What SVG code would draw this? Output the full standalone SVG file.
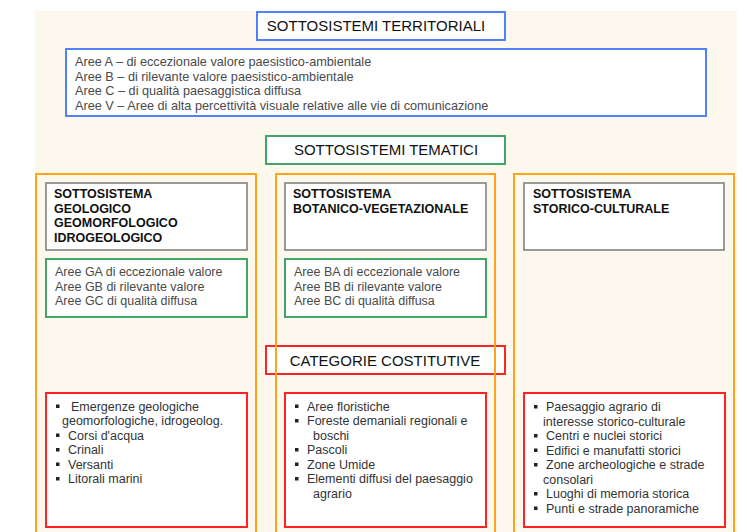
<svg xmlns="http://www.w3.org/2000/svg" width="747" height="532" viewBox="0 0 747 532">
<style>
text{font-family:"Liberation Sans",Arial,sans-serif}
.bg{fill:#fdf8ee}
.blue{fill:#fff;stroke:#5080fa;stroke-width:2}
.green{fill:#fff;stroke:#43a46a;stroke-width:2}
.red{fill:#fff;stroke:#ff2424;stroke-width:2}
.orange{fill:none;stroke:#ffa31a;stroke-width:2}
.grey{fill:#fff;stroke:#7a7a7a;stroke-width:1.5}
.title{font-size:15px;fill:#111}
.area{font-size:12.7px;fill:#4a4a4a}
.hdr{font-size:12.5px;font-weight:bold;fill:#111}
.gtx{font-size:12.5px;fill:#4a4a4a}
.ltx{font-size:12.5px;fill:#333}
.bul{fill:#222}
</style>
<rect class="bg" x="35" y="11" width="702" height="521"/>

<g id="territoriali">
<rect class="blue" x="257" y="12" width="248" height="28"/>
<text class="title" x="376" y="31" text-anchor="middle">SOTTOSISTEMI TERRITORIALI</text>
</g>

<g id="aree-territoriali">
<rect class="blue" x="66" y="49" width="640" height="67"/>
<text class="area" x="75" y="66">Aree A – di eccezionale valore paesistico-ambientale</text>
<text class="area" x="75" y="80.5">Aree B – di rilevante valore paesistico-ambientale</text>
<text class="area" x="75" y="95">Aree C – di qualità paesaggistica diffusa</text>
<text class="area" x="75" y="109.5">Aree V – Aree di alta percettività visuale relative alle vie di comunicazione</text>
</g>

<g id="tematici">
<rect class="green" x="266" y="136" width="239" height="28"/>
<text class="title" x="386" y="155" text-anchor="middle">SOTTOSISTEMI TEMATICI</text>
</g>

<g id="categorie">
<rect class="red" x="266" y="346" width="239" height="28"/>
<text class="title" x="385" y="366" text-anchor="middle">CATEGORIE COSTITUTIVE</text>
</g>

<g id="col-geologico">
<rect class="orange" x="36" y="174" width="220" height="370"/>
</g>
<g id="col-botanico">
<rect class="orange" x="276" y="174" width="219" height="370"/>
</g>
<g id="col-storico">
<rect class="orange" x="514" y="174" width="220" height="370"/>
</g>

<g id="hdr-geologico">
<rect class="grey" x="46" y="183" width="201" height="67"/>
<text class="hdr" x="54" y="198">SOTTOSISTEMA</text>
<text class="hdr" x="54" y="212.5">GEOLOGICO</text>
<text class="hdr" x="54" y="227">GEOMORFOLOGICO</text>
<text class="hdr" x="54" y="241.5">IDROGEOLOGICO</text>
</g>
<g id="hdr-botanico">
<rect class="grey" x="285" y="183" width="201" height="67"/>
<text class="hdr" x="293" y="198">SOTTOSISTEMA</text>
<text class="hdr" x="293" y="212.5">BOTANICO-VEGETAZIONALE</text>
</g>
<g id="hdr-storico">
<rect class="grey" x="524" y="183" width="200" height="67"/>
<text class="hdr" x="533" y="198">SOTTOSISTEMA</text>
<text class="hdr" x="533" y="212.5">STORICO-CULTURALE</text>
</g>

<g id="aree-geologico">
<rect class="green" x="46" y="259" width="201" height="58"/>
<text class="gtx" x="55" y="276">Aree GA di eccezionale valore</text>
<text class="gtx" x="55" y="290.5">Aree GB di rilevante valore</text>
<text class="gtx" x="55" y="305">Aree GC di qualità diffusa</text>
</g>
<g id="aree-botanico">
<rect class="green" x="285" y="259" width="201" height="58"/>
<text class="gtx" x="294" y="276">Aree BA di eccezionale valore</text>
<text class="gtx" x="294" y="290.5">Aree BB di rilevante valore</text>
<text class="gtx" x="294" y="305">Aree BC di qualità diffusa</text>
</g>

<g id="cat-geologico">
<rect class="red" x="46" y="393" width="201" height="134"/>
<rect class="bul" x="56" y="404.5" width="3.5" height="3.5"/>
<text class="ltx" x="71" y="410.5">Emergenze geologiche</text>
<text class="ltx" x="62" y="425">geomorfologiche, idrogeolog.</text>
<rect class="bul" x="56" y="433.5" width="3.5" height="3.5"/>
<text class="ltx" x="68" y="439.5">Corsi d'acqua</text>
<rect class="bul" x="56" y="448" width="3.5" height="3.5"/>
<text class="ltx" x="68" y="454">Crinali</text>
<rect class="bul" x="56" y="462.5" width="3.5" height="3.5"/>
<text class="ltx" x="68" y="468.5">Versanti</text>
<rect class="bul" x="56" y="477" width="3.5" height="3.5"/>
<text class="ltx" x="68" y="483">Litorali marini</text>
</g>

<g id="cat-botanico">
<rect class="red" x="285" y="393" width="201" height="134"/>
<rect class="bul" x="295" y="404.5" width="3.5" height="3.5"/>
<text class="ltx" x="307" y="410.5">Aree floristiche</text>
<rect class="bul" x="295" y="419" width="3.5" height="3.5"/>
<text class="ltx" x="307" y="425">Foreste demaniali regionali e</text>
<text class="ltx" x="313" y="439.5">boschi</text>
<rect class="bul" x="295" y="448" width="3.5" height="3.5"/>
<text class="ltx" x="307" y="454">Pascoli</text>
<rect class="bul" x="295" y="462.5" width="3.5" height="3.5"/>
<text class="ltx" x="307" y="468.5">Zone Umide</text>
<rect class="bul" x="295" y="477" width="3.5" height="3.5"/>
<text class="ltx" x="307" y="483">Elementi diffusi del paesaggio</text>
<text class="ltx" x="313" y="497.5">agrario</text>
</g>

<g id="cat-storico">
<rect class="red" x="524" y="393" width="201" height="134"/>
<rect class="bul" x="534" y="405" width="3.5" height="3.5"/>
<text class="ltx" x="546" y="411">Paesaggio agrario di</text>
<text class="ltx" x="543" y="425.5">interesse storico-culturale</text>
<rect class="bul" x="534" y="434" width="3.5" height="3.5"/>
<text class="ltx" x="546" y="440">Centri e nuclei storici</text>
<rect class="bul" x="534" y="448.5" width="3.5" height="3.5"/>
<text class="ltx" x="546" y="454.5">Edifici e manufatti storici</text>
<rect class="bul" x="534" y="463" width="3.5" height="3.5"/>
<text class="ltx" x="546" y="469">Zone archeologiche e strade</text>
<text class="ltx" x="543" y="483.5">consolari</text>
<rect class="bul" x="534" y="492" width="3.5" height="3.5"/>
<text class="ltx" x="546" y="498">Luoghi di memoria storica</text>
<rect class="bul" x="534" y="506.5" width="3.5" height="3.5"/>
<text class="ltx" x="546" y="512.5">Punti e strade panoramiche</text>
</g>

<g id="connectors"/>
</svg>
